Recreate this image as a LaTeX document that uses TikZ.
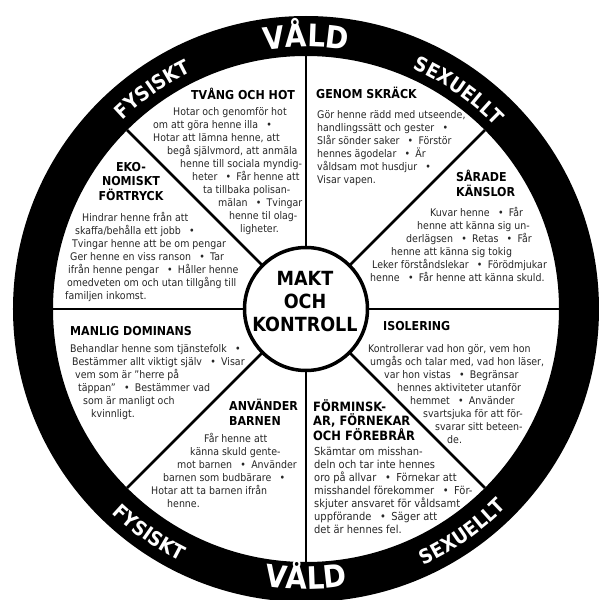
\documentclass[tikz,border=0pt]{standalone}
\usepackage{fontspec}
\setmainfont{DejaVu Sans}[FakeStretch=0.9]
\usetikzlibrary{decorations.text}
\newcommand{\bl}{\enspace\textbullet\enspace}
\newcommand{\ind}[1]{\hspace*{#1pt}}
\newcommand{\ringfont}{\bfseries\fontsize{20}{20}\selectfont}
\newcommand{\valdfont}{\bfseries\fontsize{31}{31}\selectfont}

\begin{document}
\begin{tikzpicture}[x=1pt, y=1pt,
  blurb/.style={anchor=north west, inner sep=0pt, align=left, font=\fontsize{10.5}{13}\selectfont, text=black!85},
  headline/.style={anchor=north west, inner sep=0pt, align=left, font=\bfseries\fontsize{12.3}{14.5}\selectfont},
  spoke/.style={line width=2.5pt},
  ringtext/.style={decorate, decoration={text along path, text align=center, text color=white, text={#1}}}]
	\useasboundingbox (-306,-291) rectangle (292,309);
	% ring and spokes
	\fill[black, even odd rule] (0,0) circle (293) (0,0) circle (253);
	\draw[spoke] (90:253) -- (270:253);
	\draw[spoke] (0:253) -- (180:253);
	\draw[spoke] (45:253) -- (225:253);
	\draw[spoke] (135:253) -- (315:253);
	\node[circle, draw, line width=3.5pt, fill=white, minimum size=123pt, inner sep=0pt] (mid) at (0,0) {};
	\node[align=center, inner sep=0pt, font=\bfseries\fontsize{19.5}{23}\selectfont] (midtext) at (-1,7) {MAKT\\OCH\\KONTROLL};
	% ring words
	\path[ringtext={|\valdfont|VÅLD}] (110:262) arc[start angle=110, end angle=70, radius=262];
	\path[ringtext={|\ringfont|FYSISKT}] (145:263) arc[start angle=145, end angle=105, radius=263];
	\path[ringtext={|\ringfont|SEXUELLT}] (75:263) arc[start angle=75, end angle=35, radius=263];
	\path[ringtext={|\ringfont|FYSISKT}] (215:282) arc[start angle=215, end angle=255, radius=282];
	\path[ringtext={|\ringfont|SEXUELLT}] (285:282) arc[start angle=285, end angle=325, radius=282];
	\path[ringtext={|\valdfont|VÅLD}] (250:280) arc[start angle=250, end angle=290, radius=280];
	% sectors
	\node[headline] (tvangH) at (-115,221) {TVÅNG OCH HOT};
	\node[blurb] (tvang) at (-153,202) {\ind{20}Hotar och genomför hot\\
		om att göra henne illa \bl\\
		Hotar att lämna henne, att\\
		\ind{14}begå självmord, att anmäla\\
		\ind{27}henne till sociala myndig-\\
		\ind{39}heter \bl Får henne att\\
		\ind{50}ta tillbaka polisan-\\
		\ind{65}mälan \bl Tvingar\\
		\ind{76}henne til olag-\\
		\ind{87}ligheter.};
	\node[headline] (skrackH) at (10,222) {GENOM SKRÄCK};
	\node[blurb] (skrack) at (11,199) {Gör henne rädd med utseende,\\
		handlingssätt och gester \bl\\
		Slår sönder saker \bl Förstör\\
		hennes ägodelar \bl Är\\
		våldsam mot husdjur \bl\\
		Visar vapen.};
	\node[headline] (kanslorH) at (150,139) {SÅRADE\\KÄNSLOR};
	\node[blurb] (kanslor) at (64,102) {\ind{60}Kuvar henne \bl Får\\
		\ind{47}henne att känna sig un-\\
		\ind{36}derlägsen \bl Retas \bl Får\\
		\ind{21}henne att känna sig tokig\\
		\ind{2}Leker förståndslekar \bl Förödmjukar\\
		henne \bl Får henne att känna skuld.};
	\node[headline, anchor=north, align=center] (ekoH) at (-175,147) {EKO-\\NOMISKT\\FÖRTRYCK};
	\node[blurb] (eko) at (-241,97) {\ind{17}Hindrar henne från att\\
		\ind{10}skaffa/behålla ett jobb \bl\\
		\ind{7}Tvingar henne att be om pengar\\
		\ind{5}Ger henne en viss ranson \bl Tar\\
		\ind{3}ifrån henne pengar \bl Håller henne\\
		\ind{2}omedveten om och utan tillgång till\\
		familjen inkomst.};
	\node[headline] (manligH) at (-236,-17) {MANLIG DOMINANS};
	\node[blurb] (manlig) at (-236,-35) {Behandlar henne som tjänstefolk \bl\\
		\ind{2}Bestämmer allt viktigt själv \bl Visar\\
		\ind{5}vem som är ”herre på\\
		\ind{8}täppan” \bl Bestämmer vad\\
		\ind{13}som är manligt och\\
		\ind{21}kvinnligt.};
	\node[headline] (barnenH) at (-77,-90) {ANVÄNDER\\BARNEN};
	\node[blurb] (barnen) at (-155,-124) {\ind{53}Får henne att\\
		\ind{39}känna skuld gente-\\
		\ind{26}mot barnen \bl Använder\\
		\ind{12}barnen som budbärare \bl\\
		Hotar att ta barnen ifrån\\
		\ind{16}henne.};
	\node[headline, font=\bfseries\fontsize{12.8}{14.5}\selectfont] (forminskH) at (7,-90) {FÖRMINSK-\\AR, FÖRNEKAR\\OCH FÖREBRÅR};
	\node[blurb, font=\fontsize{11}{13}\selectfont] (forminsk) at (8,-138) {Skämtar om misshan-\\
		deln och tar inte hennes\\
		oro på allvar \bl Förnekar att\\
		misshandel förekommer \bl För-\\
		skjuter ansvaret för våldsamt\\
		uppförande \bl Säger att\\
		det är hennes fel.};
	\node[headline] (isoH) at (77,-12) {ISOLERING};
	\node[blurb] (iso) at (62,-35) {Kontrollerar vad hon gör, vem hon\\
		\ind{2}umgås och talar med, vad hon läser,\\
		\ind{16}var hon vistas \bl Begränsar\\
		\ind{29}hennes aktiviteter utanför\\
		\ind{42}hemmet \bl Använder\\
		\ind{55}svartsjuka för att för-\\
		\ind{67}svarar sitt beteen-\\
		\ind{79}de.};
\end{tikzpicture}
\end{document}
